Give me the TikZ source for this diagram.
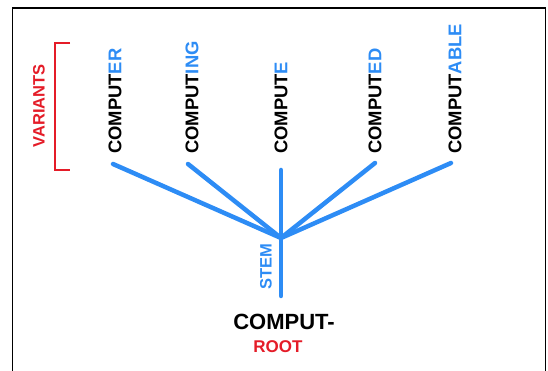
\documentclass[tikz,border=0pt]{standalone}
\usepackage{fontspec}
\setmainfont{Liberation Sans}
\usetikzlibrary{positioning}
\definecolor{stemblue}{RGB}{45,140,245}
\definecolor{rootred}{RGB}{228,28,40}
\tikzset{
  word/.style={rotate=90, anchor=west, inner sep=0pt, font=\fontsize{18.4}{20}\selectfont\bfseries},
  branch/.style={stemblue, line width=4.5pt, line cap=round},
  tag/.style={rotate=90, inner sep=0pt, font=\fontsize{16.5}{18}\selectfont\bfseries}
}
\newcommand{\suffix}[1]{\textcolor{stemblue}{#1}}
\begin{document}
\begin{tikzpicture}[x=1pt, y=1pt]
\useasboundingbox (0,0) rectangle (548,371);
% frame
\draw[line width=1.6pt] (12.5,0) -- (12.5,363) -- (545.5,363) -- (545.5,0);
% variants bracket
\draw[rootred, line width=2.2pt] (70,328) -- (55,328) -- (55,201) -- (70,201);
\node[tag, rootred] (variants) at (39,265) {VARIANTS};
% the five words
\node[word] (er)   at (115,217) {COMPUT\suffix{ER}};
\node[word] (ing)  at (192,217) {COMPUT\suffix{ING}};
\node[word] (e)    at (281,217) {COMPUT\suffix{E}};
\node[word] (ed)   at (375,217) {COMPUT\suffix{ED}};
\node[word] (able) at (455,217) {COMPUT\suffix{ABLE}};
% feet of the branches
\coordinate (erfoot)   at (113,207);
\coordinate (ingfoot)  at (188,207);
\coordinate (efoot)    at (281,201);
\coordinate (edfoot)   at (375,208);
\coordinate (ablefoot) at (451,208);
\coordinate (hub) at (281,133);
\coordinate (base) at (281,75);
\foreach \f in {erfoot, ingfoot, efoot, edfoot, ablefoot}
  \draw[branch] (hub) -- (\f);
\draw[branch] (hub) -- (base);
\node[tag, stemblue] (stem) at (266,104) {STEM};
% root
\node[font=\fontsize{22}{24}\selectfont\bfseries] (comput) at (284,49) {COMPUT-};
\node[font=\fontsize{17}{19}\selectfont\bfseries, rootred] (root) at (278,24) {ROOT};
\end{tikzpicture}
\end{document}
